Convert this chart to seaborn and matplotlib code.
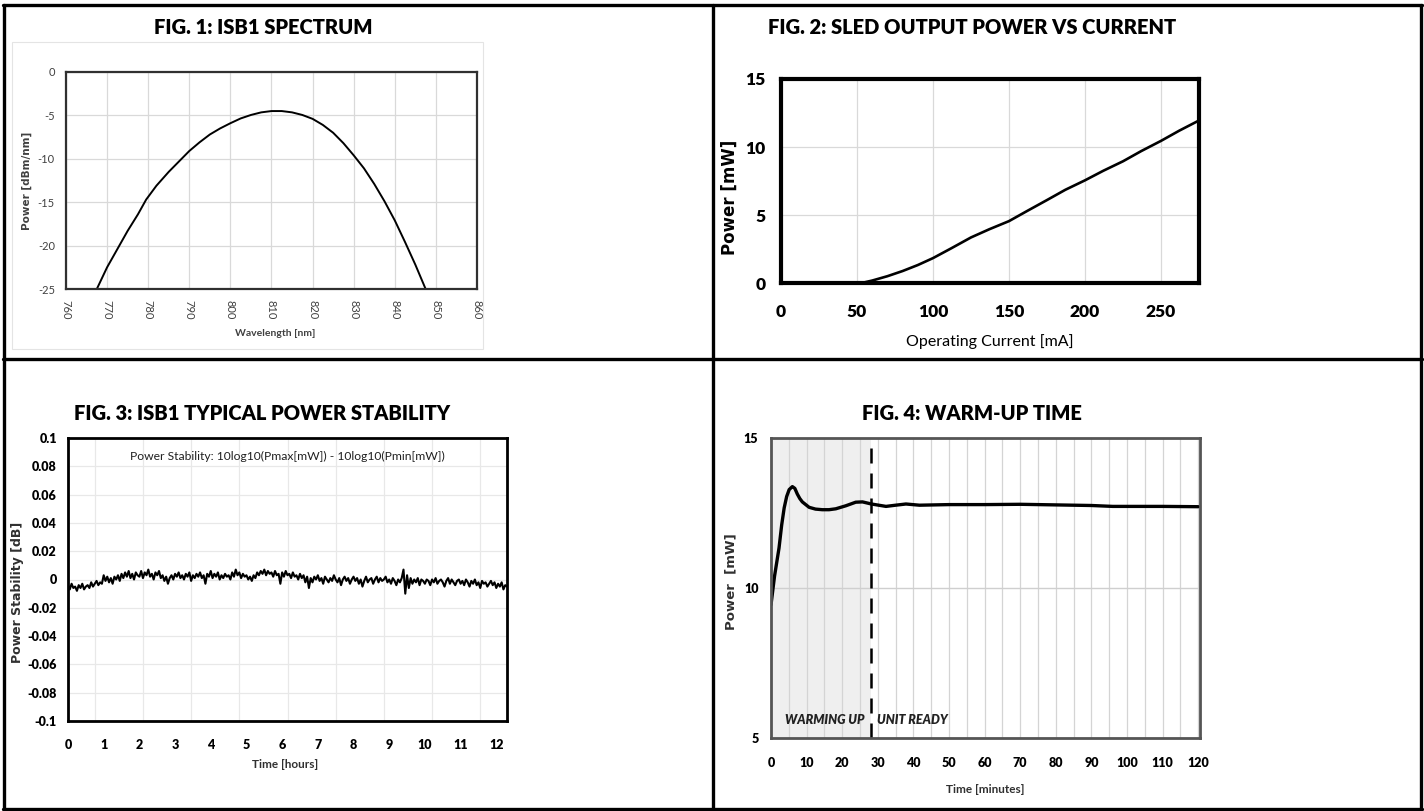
import numpy as np
import matplotlib
matplotlib.use("Agg")
import matplotlib.pyplot as plt
from matplotlib.lines import Line2D
from matplotlib.patches import Rectangle
import seaborn as sns

sns.set_theme(style="white")
plt.rcParams['font.family'] = ['Lato', 'DejaVu Sans']

W, H = 1424, 811

# --- Fig 1: spectrum ---
wl_nm = [767.5, 770, 772.5, 775, 777.5, 779.5, 782, 785, 787.5, 790, 792.5, 795,
         797.5, 800, 802.5, 805, 807.5, 810, 812.5, 815, 817.5, 820, 822.5, 825,
         827.5, 830, 832.5, 835, 837.5, 840, 842.5, 845, 847.5]
spec_dbm = [-25, -22.5, -20.4, -18.3, -16.4, -14.7, -13.1, -11.5, -10.3, -9.1, -8.1, -7.2,
            -6.5, -5.9, -5.35, -4.95, -4.65, -4.5, -4.5, -4.65, -4.95, -5.4, -6.1, -7.0,
            -8.2, -9.6, -11.1, -12.9, -14.9, -17.1, -19.6, -22.2, -25]

# --- Fig 2: L-I curve ---
current_ma = [0, 50, 55, 60, 70, 80, 90, 100, 112, 125, 137, 150, 162, 175, 187,
              200, 212, 225, 237, 250, 262, 275]
power_mw = [0, 0, 0.05, 0.18, 0.5, 0.88, 1.32, 1.83, 2.55, 3.35, 3.95, 4.55, 5.3, 6.1, 6.85,
            7.55, 8.25, 8.95, 9.7, 10.45, 11.2, 11.95]

# --- Fig 3: power stability, milli-dB, one sample every 0.05 h ---
stab_mdb = [
    -4, -7, -3, -6, -5, -8, -4, -6, -3, -7, -5, -4, -6, -2, -5, -3, -1, -4, -2, -3,
    3, -1, 2, -2, 1, -3, 2, 0, 3, -1, 4, 1, 5, 2, 6, 1, 4, 0, 5, 3,
    2, 6, 1, 5, 3, 7, 2, 4, 0, 5, 3, 6, 1, 3, -1, 2, -3, 1, 3, 0,
    4, 2, 5, 1, 3, 0, 4, 2, 5, -1, 3, 1, 4, 2, 5, 1, 3, -3, 4, 2,
    6, 1, 4, 2, 5, 0, 3, 1, 4, 2, 3, 0, 5, 2, 7, 3, 5, 1, 4, 2,
    3, 0, 2, -1, 3, 1, 5, 3, 6, 4, 7, 3, 6, 4, 5, 2, 6, 3, 4, -3,
    5, 2, 6, 3, 4, 1, 5, 2, 3, 0, 4, 1, 3, -2, 2, -6, 1, -2, 2, 0,
    3, -1, 1, -3, 2, 0, -2, 1, -1, 3, 0, -2, 1, -4, 0, 2, -1, 1, -3, 0,
    2, -1, 1, -3, 0, -5, -1, 2, -2, 0, 1, -3, 0, 2, -2, 1, -1, 0, 2, -2,
    0, -3, 1, -1, -4, 0, -2, 1, 7, -10, 3, -6, 1, -3, 0, -2, 1, -4, 0, -1,
    -3, 0, -1, -4, 0, -2, 1, -3, -1, 0, -2, -5, -1, 1, -3, 0, -2, -4, -1, 0,
    -3, -1, -4, 0, -2, -5, -1, -3, 0, -4, -2, -6, -1, -3, -2, -5, -3, -1, -4, -2,
    -6, -3, -5, -2, -7, -4, -5,
]
stab_hours = np.linspace(0, 12.3, len(stab_mdb))
stab_grid_x = [0.75, 2.1, 3.45, 4.8, 6.15, 7.5, 8.85, 10.2, 11.55]
stab_yticks = [-0.1, -0.08, -0.06, -0.04, -0.02, 0, 0.02, 0.04, 0.06, 0.08, 0.1]
stab_ylabels = ['-0.1', '-0.08', '-0.06', '-0.04', '-0.02', '0',
                '0.02', '0.04', '0.06', '0.08', '0.1']

# --- Fig 4: warm-up ---
warm_min = [0, 1, 2.25, 3, 3.7, 4.4, 5.1, 6.0, 6.7, 7.4, 8.1, 8.8, 10.7, 12.5, 14.4,
            16.3, 18.2, 21, 23.8, 25.7, 28.2, 32.3, 35, 37.9, 41.7, 50, 60, 70, 80,
            90, 96, 110, 120]
warm_mw = [9.44, 10.4, 11.33, 12.1, 12.67, 13.05, 13.28, 13.38, 13.32, 13.13, 12.98, 12.87,
           12.69, 12.63, 12.61, 12.61, 12.64, 12.74, 12.86, 12.87, 12.8, 12.72, 12.76, 12.8,
           12.76, 12.78, 12.78, 12.79, 12.77, 12.75, 12.72, 12.72, 12.71]
ready_min = 28.2

fig = plt.figure(figsize=(W / 100, H / 100), dpi=100)


def px_axes(left, top, right, bottom):
    return fig.add_axes([left / W, 1 - bottom / H, (right - left) / W, (bottom - top) / H])


def hline(x0, x1, y):
    fig.add_artist(Line2D([x0 / W, x1 / W], [1 - y / H, 1 - y / H], color='black', lw=2.4,
                          transform=fig.transFigure))


def vline(x, y0, y1):
    fig.add_artist(Line2D([x / W, x / W], [1 - y0 / H, 1 - y1 / H], color='black', lw=2.4,
                          transform=fig.transFigure))


def style_spines(ax, color, lw):
    for s in ax.spines.values():
        s.set_visible(True)
        s.set_color(color)
        s.set_linewidth(lw)


def place_labels(ax, xc, yc):
    # label coordinates are label centres, in axes fractions
    ax.xaxis.label.set_va('center')
    ax.yaxis.label.set_va('center')
    ax.xaxis.set_label_coords(*xc)
    ax.yaxis.set_label_coords(*yc)


# table borders
hline(3, 1422, 5)
hline(3, 1422, 359)
hline(3, 1422, 809)
vline(4, 5, 809)
vline(712.5, 5, 809)
vline(1421, 5, 809)

title_kw = dict(fontsize=14.5, fontweight='heavy', ha='center', va='center', color='black')
fig.text(263 / W, 1 - 27 / H, 'FIG. 1: ISB1 SPECTRUM', **title_kw)
fig.text(972 / W, 1 - 27 / H, 'FIG. 2: SLED OUTPUT POWER VS CURRENT', **title_kw)
fig.text(262 / W, 1 - 414 / H, 'FIG. 3: ISB1 TYPICAL POWER STABILITY', **title_kw)
fig.text(972 / W, 1 - 414 / H, 'FIG. 4: WARM-UP TIME', **title_kw)

# ---------------- Fig 1 ----------------
fig.add_artist(Rectangle((12 / W, 1 - 349 / H), (483 - 12) / W, (349 - 42) / H, fill=False,
                         ec='#e4e4e4', lw=0.8, transform=fig.transFigure))
ax1 = px_axes(66, 72, 477, 289)
sns.lineplot(x=wl_nm, y=spec_dbm, ax=ax1, color='black', lw=1.4)
ax1.set_xlim(760, 860)
ax1.set_ylim(-25, 0)
ax1.set_xticks(range(760, 861, 10))
ax1.set_yticks(range(-25, 1, 5), [str(v) for v in range(-25, 1, 5)])
ax1.grid(True, color='#d9d9d9', lw=0.9)
ax1.tick_params(axis='both', length=0, labelsize=8, colors='#404040')
ax1.tick_params(axis='y', pad=8)
ax1.tick_params(axis='x', pad=8, labelrotation=-90)
style_spines(ax1, '#303030', 1.6)
ax1.set_xlabel('Wavelength [nm]', fontsize=7.5, fontweight='bold', color='#404040')
ax1.set_ylabel('Power [dBm/nm]', fontsize=7.5, fontweight='bold', color='#404040',
               family=['DejaVu Sans'])
place_labels(ax1, (0.508, -0.207), (-0.095, 0.5))

# ---------------- Fig 2 ----------------
ax2 = px_axes(781, 79, 1199, 283)
sns.lineplot(x=current_ma, y=power_mw, ax=ax2, color='black', lw=1.9)
ax2.set_xlim(0, 275)
ax2.set_ylim(0, 15)
ax2.set_xticks(range(0, 251, 50), [str(v) for v in range(0, 251, 50)], fontweight='heavy')
ax2.set_yticks([0, 5, 10, 15], ['0', '5', '10', '15'], fontweight='heavy')
ax2.grid(True, color='#d9d9d9', lw=0.9)
ax2.tick_params(axis='both', length=0, labelsize=12.5, colors='black')
ax2.tick_params(axis='y', pad=11)
ax2.tick_params(axis='x', pad=15)
style_spines(ax2, 'black', 3)
ax2.set_xlabel('Operating Current [mA]', fontsize=11.5, color='black')
ax2.set_ylabel('Power [mW]', fontsize=12, fontweight='bold', color='black',
               family=['DejaVu Sans'])
place_labels(ax2, (0.5, -0.289), (-0.122, 0.42))

# ---------------- Fig 3 ----------------
ax3 = px_axes(68, 438, 507, 721)
sns.lineplot(x=stab_hours, y=np.array(stab_mdb) / 1000, ax=ax3, color='black', lw=1.5)
ax3.set_xlim(0, 12.3)
ax3.set_ylim(-0.1, 0.1)
ax3.set_xticks(range(0, 13), [str(v) for v in range(0, 13)], fontweight='heavy')
ax3.set_yticks(stab_yticks, stab_ylabels, fontweight='heavy')
ax3.set_xticks(stab_grid_x, minor=True)
ax3.grid(True, which='minor', axis='x', color='#e8e8e8', lw=0.9)
ax3.grid(True, which='major', axis='y', color='#e8e8e8', lw=0.9)
ax3.tick_params(axis='both', which='both', length=0, labelsize=9, colors='black')
ax3.tick_params(axis='y', pad=8)
ax3.tick_params(axis='x', pad=13)
style_spines(ax3, 'black', 2)
ax3.text(0.5, 0.935, 'Power Stability: 10log10(Pmax[mW]) - 10log10(Pmin[mW])',
         transform=ax3.transAxes, ha='center', va='center', fontsize=8.7, color='#202020')
ax3.set_xlabel('Time [hours]', fontsize=8.5, fontweight='bold', color='#303030')
ax3.set_ylabel('Power Stability [dB]', fontsize=9, fontweight='bold', color='#303030',
               family=['DejaVu Sans'])
place_labels(ax3, (0.494, -0.152), (-0.114, 0.456))

# ---------------- Fig 4 ----------------
ax4 = px_axes(771, 438, 1200, 738)
ax4.axvspan(0, ready_min, color='#efefef', zorder=0, lw=0)
sns.lineplot(x=warm_min, y=warm_mw, ax=ax4, color='black', lw=2.4)
ax4.axvline(ready_min, color='black', lw=1.8, ls=(0, (6, 4)))
ax4.set_xlim(0, 120.5)
ax4.set_ylim(5, 15)
ax4.set_xticks(range(0, 121, 10), [str(v) for v in range(0, 121, 10)], fontweight='heavy')
ax4.set_yticks([5, 10, 15], ['5', '10', '15'], fontweight='heavy')
ax4.set_xticks(range(5, 120, 10), minor=True)
ax4.set_axisbelow(True)
ax4.grid(True, which='both', axis='x', color='#d4d4d4', lw=0.9)
ax4.grid(True, which='major', axis='y', color='#cfcfcf', lw=1.0)
ax4.tick_params(axis='both', which='both', length=0, labelsize=9, colors='black')
ax4.tick_params(axis='y', pad=9)
ax4.tick_params(axis='x', pad=14)
style_spines(ax4, '#555555', 2)
ax4.text(26.3, 5.6, 'WARMING UP', fontsize=9, fontweight='heavy', fontstyle='italic',
         ha='right', va='center', color='#222222')
ax4.text(29.9, 5.6, 'UNIT READY', fontsize=9, fontweight='heavy', fontstyle='italic',
         ha='left', va='center', color='#222222')
ax4.set_xlabel('Time [minutes]', fontsize=8.5, fontweight='bold', color='#303030')
ax4.set_ylabel('Power  [mW]', fontsize=9.5, fontweight='bold', color='#303030',
               family=['DejaVu Sans'])
place_labels(ax4, (0.499, -0.173), (-0.093, 0.52))

fig.savefig('out.png', dpi=100)
